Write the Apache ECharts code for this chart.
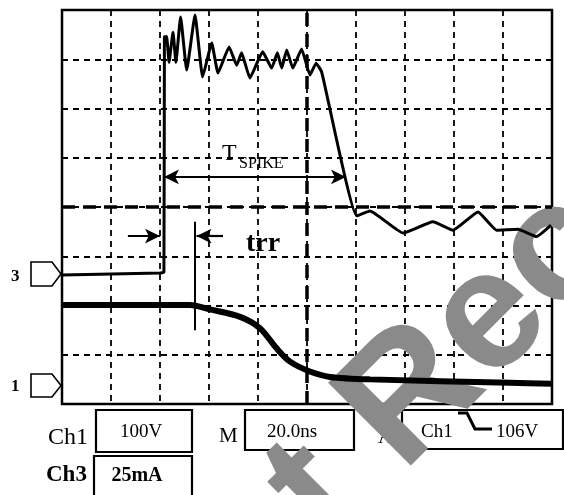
<!DOCTYPE html>
<html>
<head>
<meta charset="utf-8">
<script src="https://cdn.jsdelivr.net/npm/echarts@6/dist/echarts.min.js"></script>
<style>
html,body{margin:0;padding:0;background:#fff;}
#c{width:564px;height:495px;}
</style>
</head>
<body>
<div id="c"></div>
<script>
// Time in ns (20 ns/div, 10 divisions), amplitude in screen divisions (8 divisions)
const timeCh3 = [0, 40.0, 41.6, 41.8, 42.7, 43.7, 45.3, 46.5, 48.4, 50.9, 54.3, 57.4, 61.1, 63.7, 68.2, 71.3, 73.3, 76.7, 81.9, 85.6, 87.9, 89.7, 91.7, 94.2, 97.8, 101.2, 103.7, 106.0, 120.3, 125.7, 139.2, 151.4, 159.6, 169.8, 177.4, 186.1, 193.7, 199.6];
const valCh3  = [2.62, 2.66, 2.68, 7.45, 7.46, 6.94, 7.55, 6.94, 7.86, 6.78, 7.90, 6.64, 7.33, 6.72, 7.25, 6.88, 7.13, 6.62, 7.15, 6.82, 7.13, 6.82, 7.19, 6.82, 7.21, 6.68, 6.92, 6.74, 3.82, 3.92, 3.47, 3.70, 3.53, 3.90, 3.53, 3.55, 3.40, 3.63];

const timeCh1 = [0, 52.2, 60.4, 72.7, 80.8, 87.6, 93.1, 101.2, 109.4, 125.7, 182.9, 200];
const valCh1  = [2.01, 2.01, 1.92, 1.77, 1.54, 1.13, 0.86, 0.66, 0.55, 0.50, 0.43, 0.41];

// annotation values
const tSpikeStart = 41.6, tSpikeEnd = 115.9, tSpikeLevel = 4.61;
const trrLevel = 3.41, trrStart = 40.0, trrEnd = 54.3;
const trrMarkerTop = 3.70, trrMarkerBottom = 1.50;

// readout labels
const ch1Scale = '100V', ch3Scale = '25mA', timeBase = '20.0ns', trigLevel = '106V';

const pairs = (t, v) => t.map((x, i) => [x, v[i]]);
const serif = '"Liberation Serif", "Times New Roman", serif';

const chart = echarts.init(document.getElementById('c'), null, {renderer: 'canvas'});

const gridDash = {color: '#000', width: 1.8, type: [6, 5]};
const thickDash = {color: '#000', width: 3.5, type: [13, 8]};

function txt(x, y, text, size, weight, align) {
  return {
    type: 'text', x: x, y: y, z: 0,
    style: {
      text: text, fill: '#000',
      font: (weight || 'normal') + ' ' + size + 'px ' + serif,
      align: align || 'left', textAlign: align || 'left',
      verticalAlign: 'middle', textVerticalAlign: 'middle'
    }
  };
}
function box(x, y, w, h) {
  return {type: 'rect', z: 0, shape: {x: x, y: y, width: w, height: h},
    style: {fill: 'none', stroke: '#000', lineWidth: 2.2}};
}

const option = {
  animation: false,
  backgroundColor: '#fff',
  grid: {left: 62, top: 10, width: 490, height: 394, show: true,
    borderColor: '#000', borderWidth: 2.5, backgroundColor: 'transparent'},
  xAxis: {type: 'value', min: 0, max: 200, interval: 20,
    axisLine: {show: false}, axisTick: {show: false}, axisLabel: {show: false},
    splitLine: {show: true, lineStyle: gridDash}},
  yAxis: {type: 'value', min: 0, max: 8, interval: 1,
    axisLine: {show: false}, axisTick: {show: false}, axisLabel: {show: false},
    splitLine: {show: true, lineStyle: gridDash}},
  series: [
    {
      name: 'Ch3', type: 'line', data: pairs(timeCh3, valCh3),
      showSymbol: false, smooth: 0.12,
      lineStyle: {color: '#000', width: 3}, z: 3
    },
    {
      name: 'Ch1', type: 'line', data: pairs(timeCh1, valCh1),
      showSymbol: false, smooth: 0.3,
      lineStyle: {color: '#000', width: 6}, z: 3
    },
    {
      name: 'annot', type: 'line', data: [], z: 3,
      markLine: {
        silent: true, animation: false, symbol: ['none', 'none'],
        label: {show: false},
        data: [
          [{xAxis: 100, yAxis: 0, lineStyle: thickDash}, {xAxis: 100, yAxis: 8}],
          [{xAxis: 0, yAxis: 4, lineStyle: thickDash}, {xAxis: 200, yAxis: 4}],
          [{coord: [tSpikeStart, tSpikeLevel], symbol: 'arrow', symbolSize: [11, 15],
            lineStyle: {color: '#000', width: 2.2, type: 'solid'}},
           {coord: [tSpikeEnd, tSpikeLevel], symbol: 'arrow', symbolSize: [11, 15]}],
          [{coord: [trrStart - 13.1, trrLevel], symbol: 'none',
            lineStyle: {color: '#000', width: 2.2, type: 'solid'}},
           {coord: [trrStart, trrLevel], symbol: 'arrow', symbolSize: [11, 15]}],
          [{coord: [trrEnd + 11.4, trrLevel], symbol: 'none',
            lineStyle: {color: '#000', width: 2.2, type: 'solid'}},
           {coord: [trrEnd + 0.6, trrLevel], symbol: 'arrow', symbolSize: [11, 15]}],
          [{coord: [trrEnd, trrMarkerTop], symbol: 'none',
            lineStyle: {color: '#000', width: 2, type: 'solid'}},
           {coord: [trrEnd, trrMarkerBottom], symbol: 'none'}]
        ]
      }
    }
  ],
  graphic: [
    // channel markers
    {type: 'polygon', z: 0, shape: {points: [[31, 262], [52, 262], [61, 274], [52, 286], [31, 286]]},
      style: {fill: '#fff', stroke: '#000', lineWidth: 1.6}},
    txt(11, 277, '3', 17, 'bold'),
    {type: 'polygon', z: 0, shape: {points: [[31, 374], [52, 374], [61, 385.5], [52, 397], [31, 397]]},
      style: {fill: '#fff', stroke: '#000', lineWidth: 1.6}},
    txt(11, 387, '1', 17, 'bold'),
    // annotation texts
    txt(222, 154, 'T', 24, 'normal'),
    txt(239, 164, 'SPIKE', 16, 'normal'),
    txt(263, 244, 'trr', 28, 'bold', 'center'),
    // readout
    txt(48, 438, 'Ch1', 24, 'normal'),
    box(96, 410, 96, 42),
    txt(141, 432, ch1Scale, 19, 'normal', 'center'),
    txt(46, 475, 'Ch3', 23, 'bold'),
    box(94, 456, 98, 45),
    txt(137, 476, ch3Scale, 20, 'bold', 'center'),
    txt(219, 436, 'M', 21, 'normal'),
    box(245, 410, 109, 40),
    txt(292, 432, timeBase, 19, 'normal', 'center'),
    txt(378, 437, 'A', 21, 'normal'),
    box(402, 410, 161, 39),
    txt(421, 432, 'Ch1', 19, 'normal'),
    {type: 'polyline', z: 0, shape: {points: [[458, 413], [467, 413], [475, 429], [492, 429]]},
      style: {fill: 'none', stroke: '#000', lineWidth: 3}},
    txt(496, 432, trigLevel, 19, 'normal'),
    // watermark
    {type: 'text', x: 196, y: 734, rotation: Math.PI / 4, z: 1,
      style: {text: 'Not Recommended', fill: '#8a8a8a',
        font: 'bold 170px "Liberation Sans", Arial, sans-serif',
        align: 'left', textAlign: 'left', verticalAlign: 'bottom', textVerticalAlign: 'bottom'}}
  ]
};
chart.setOption(option);
</script>
</body>
</html>
